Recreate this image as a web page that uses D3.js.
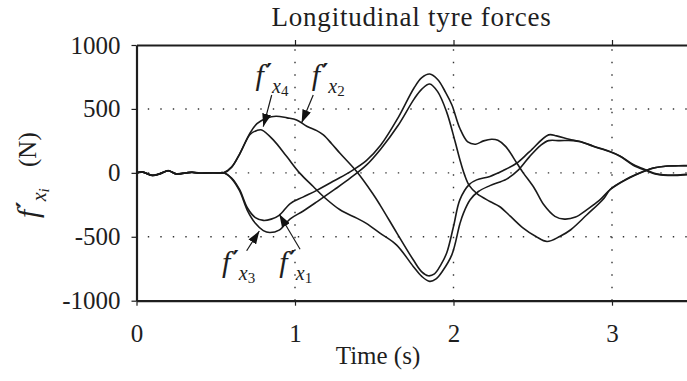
<!DOCTYPE html>
<html>
<head>
<meta charset="utf-8">
<script src="https://cdn.jsdelivr.net/npm/d3@7"></script>
<style>
  body { margin: 0; background: #fff; }
  svg text { font-family: "Liberation Serif", "DejaVu Serif", serif; fill: #1e1e1e; }
</style>
</head>
<body>
<div id="chart"></div>
<script>
// Longitudinal tyre forces f'_xi (N) against time (s)
// each series is [time, force] pairs
var fx1 = [[0,0],[0.04,6],[0.1,-20],[0.15,-6],[0.2,17],[0.25,-8],[0.31,-1],[0.35,5],[0.4,-3],[0.46,1],[0.52,0],
  [0.55,0],[0.6,-40],[0.65,-130],[0.7,-275],[0.75,-350],[0.8,-372],[0.85,-362],[0.9,-332],[0.97,-240],
  [1.05,-190],[1.14,-135],[1.25,-60],[1.35,10],[1.45,95],[1.54,215],[1.65,430],[1.75,662],[1.8,745],
  [1.85,773],[1.9,730],[1.95,630],[1.99,531],[2.04,349],[2.09,242],[2.14,224],[2.19,250],[2.24,263],
  [2.28,255],[2.33,205],[2.4,75],[2.44,0],[2.51,-120],[2.57,-250],[2.64,-340],[2.7,-362],[2.77,-346],
  [2.84,-289],[2.92,-216],[2.99,-130],[3.09,-52],[3.2,10],[3.26,37],[3.35,53],[3.42,55],[3.5,55]];

var fx2 = [[0,0],[0.04,7],[0.1,-21],[0.15,-5],[0.2,18],[0.25,-8],[0.31,0],[0.35,5],[0.4,-2],[0.46,0],[0.52,0],
  [0.55,0],[0.6,45],[0.653,153],[0.716,310],[0.76,385],[0.82,427],[0.88,443],[0.95,430],[1.01,414],
  [1.074,365],[1.137,330],[1.179,297],[1.23,230],[1.284,153],[1.389,10],[1.49,-162],[1.536,-250],
  [1.64,-465],[1.746,-680],[1.8,-775],[1.84,-805],[1.88,-790],[1.92,-720],[1.957,-627],[2.0,-420],
  [2.04,-211],[2.1,-90],[2.146,-55],[2.23,-28],[2.314,18],[2.398,75],[2.48,166],[2.6,297],[2.65,289],
  [2.73,263],[2.8,245],[2.88,210],[2.99,166],[3.05,133],[3.134,65],[3.22,20],[3.28,-8],[3.387,-18],
  [3.47,-12],[3.5,-10]];

var fx3 = [[0,0],[0.04,5],[0.1,-19],[0.15,-7],[0.2,16],[0.25,-9],[0.31,-1],[0.35,4],[0.4,-3],[0.46,1],[0.52,0],
  [0.55,0],[0.6,-45],[0.65,-140],[0.7,-295],[0.75,-395],[0.8,-452],[0.84,-467],[0.9,-448],[0.97,-360],
  [1.05,-300],[1.14,-225],[1.25,-130],[1.35,-40],[1.45,60],[1.54,185],[1.65,370],[1.75,575],[1.8,655],
  [1.85,695],[1.9,635],[1.956,479],[2.01,245],[2.04,105],[2.07,-16],[2.1,-100],[2.15,-165],[2.23,-224],
  [2.29,-263],[2.36,-341],[2.44,-432],[2.52,-498],[2.59,-537],[2.67,-498],[2.74,-445],[2.84,-330],
  [2.95,-198],[2.99,-128],[3.09,-50],[3.2,12],[3.26,38],[3.35,54],[3.42,56],[3.5,56]];

var fx4 = [[0,0],[0.04,6],[0.1,-20],[0.15,-6],[0.2,17],[0.25,-7],[0.31,-1],[0.35,5],[0.4,-3],[0.46,0],[0.52,0],
  [0.55,0],[0.6,45],[0.653,153],[0.716,300],[0.76,332],[0.79,336],[0.863,258],[0.948,127],[1.03,-2],
  [1.115,-107],[1.179,-185],[1.284,-289],[1.389,-354],[1.45,-395],[1.536,-471],[1.64,-563],[1.746,-732],
  [1.8,-810],[1.85,-849],[1.89,-830],[1.93,-770],[1.99,-640],[2.04,-400],[2.063,-315],[2.105,-211],
  [2.157,-146],[2.23,-100],[2.335,-49],[2.41,23],[2.48,127],[2.55,215],[2.6,252],[2.67,252],[2.755,252],
  [2.8,243],[2.88,208],[2.99,163],[3.05,130],[3.134,60],[3.22,16],[3.28,-11],[3.387,-21],[3.47,-15],[3.5,-13]];

var seriesList = [fx1, fx2, fx3, fx4];

// axis ticks
var xTicks = [0, 1, 2, 3];
var yTicks = [-1000, -500, 0, 500, 1000];
var xGrid = [1, 2, 3];
var yGrid = [-500, 0, 500];

// labels with arrows: label anchor (t, f), arrow start (t, f), arrow tip (t, f)
var annotations = [
  {sub: "4", label: [0.75, 687], from: [0.853, 609], to: [0.80, 361]},
  {sub: "2", label: [1.105, 687], from: [1.115, 609], to: [1.042, 392]},
  {sub: "3", label: [0.54, -772], from: [0.695, -609], to: [0.775, -455]},
  {sub: "1", label: [0.9, -772], from: [1.032, -598], to: [0.901, -324]}
];

var fontFamily = "'Liberation Serif', 'DejaVu Serif', serif";

// SVG area
var svgWidth = 687;
var svgHeight = 381;
var chartMargin = {top: 45, left: 136.5};
// the time axis runs to 3.5 s, a little past the window edge as in the original
var chartWidth = 554.75;
var chartHeight = 255.7;

var svg = d3.select("#chart")
  .append("svg")
  .attr("width", svgWidth)
  .attr("height", svgHeight)
  .attr("font-family", fontFamily);

var chartGroup = svg.append("g")
  .attr("transform", `translate(${chartMargin.left}, ${chartMargin.top})`);

var xScale = d3.scaleLinear().domain([0, 3.5]).range([0, chartWidth]);
var yScale = d3.scaleLinear().domain([-1000, 1000]).range([chartHeight, 0]);

// dotted grid
chartGroup.append("g").selectAll("line")
  .data(xGrid)
  .enter()
  .append("line")
  .attr("x1", d => xScale(d))
  .attr("x2", d => xScale(d))
  .attr("y1", chartHeight)
  .attr("y2", 0)
  .attr("stroke", "#333")
  .attr("stroke-width", 1.4)
  .attr("stroke-dasharray", "1.4,11.1");

chartGroup.append("g").selectAll("line")
  .data(yGrid)
  .enter()
  .append("line")
  .attr("x1", 0)
  .attr("x2", chartWidth)
  .attr("y1", d => yScale(d))
  .attr("y2", d => yScale(d))
  .attr("stroke", "#333")
  .attr("stroke-width", 1.4)
  .attr("stroke-dasharray", "1.4,11.1")
  .attr("stroke-dashoffset", 1.2);

// axes
function styleAxis(g) {
  g.attr("font-size", 25).attr("font-family", fontFamily).attr("color", "#1e1e1e");
  g.select(".domain").attr("stroke-width", 2.2);
  g.selectAll(".tick line").attr("stroke-width", 1.2);
}

chartGroup.append("g")
  .call(d3.axisLeft(yScale).tickValues(yTicks).tickSize(5).tickSizeOuter(0).tickPadding(11).tickFormat(d => String(d)))
  .call(styleAxis);

chartGroup.append("g")
  .attr("transform", `translate(0, ${chartHeight})`)
  .call(d3.axisBottom(xScale).tickValues(xTicks).tickSize(5).tickSizeOuter(0).tickPadding(19).tickFormat(d => String(d)))
  .call(styleAxis);

chartGroup.append("g")
  .call(d3.axisTop(xScale).tickValues(xGrid).tickSize(5).tickSizeOuter(0).tickFormat(""))
  .call(styleAxis);

// force curves
var line = d3.line()
  .x(d => xScale(d[0]))
  .y(d => yScale(d[1]))
  .curve(d3.curveCatmullRom.alpha(0.5));

chartGroup.append("g").selectAll("path")
  .data(seriesList)
  .enter()
  .append("path")
  .attr("d", line)
  .attr("fill", "none")
  .attr("stroke", "#1a1a1a")
  .attr("stroke-width", 1.6);

// arrowhead
svg.append("defs").append("marker")
  .attr("id", "arrow")
  .attr("viewBox", "0 0 13 9")
  .attr("refX", 13)
  .attr("refY", 4.5)
  .attr("markerWidth", 13)
  .attr("markerHeight", 9)
  .attr("markerUnits", "userSpaceOnUse")
  .attr("orient", "auto")
  .append("path")
  .attr("d", "M0,0 L13,4.5 L0,9 Z")
  .attr("fill", "#111");

// f' label: italic f, a bold prime, subscript x and a smaller index under it
function fLabel(sel, sub, subItalic) {
  sel.append("tspan").attr("font-style", "italic").text("f");
  sel.append("tspan").attr("font-size", 24).attr("font-weight", "bold")
    .attr("font-family", "'DejaVu Serif', serif").attr("dx", 2).attr("dy", -4).text("′");
  sel.append("tspan").attr("font-style", "italic").attr("font-size", 20).attr("dx", 0).attr("dy", 12).text("x");
  sel.append("tspan").attr("font-style", subItalic ? "italic" : "normal").attr("font-size", 15).attr("dy", 3).text(sub);
}

annotations.forEach(function(a) {
  chartGroup.append("line")
    .attr("x1", xScale(a.from[0]))
    .attr("y1", yScale(a.from[1]))
    .attr("x2", xScale(a.to[0]))
    .attr("y2", yScale(a.to[1]))
    .attr("stroke", "#1a1a1a")
    .attr("stroke-width", 1.2)
    .attr("marker-end", "url(#arrow)");

  var t = chartGroup.append("text")
    .attr("x", xScale(a.label[0]))
    .attr("y", yScale(a.label[1]))
    .attr("font-size", 30);
  fLabel(t, a.sub, false);
});

// title and axis labels
svg.append("text")
  .attr("x", 411.5)
  .attr("y", 26)
  .attr("text-anchor", "middle")
  .attr("font-size", 27)
  .attr("letter-spacing", 0.8)
  .text("Longitudinal tyre forces");

svg.append("text")
  .attr("x", 378)
  .attr("y", 364)
  .attr("text-anchor", "middle")
  .attr("font-size", 25)
  .text("Time (s)");

var yLabel = svg.append("text")
  .attr("transform", "translate(38, 218) rotate(-90)")
  .attr("font-size", 30);
fLabel(yLabel, "i", true);

svg.append("text")
  .attr("transform", "translate(36, 167) rotate(-90)")
  .attr("font-size", 25)
  .text("(N)");
</script>
</body>
</html>
